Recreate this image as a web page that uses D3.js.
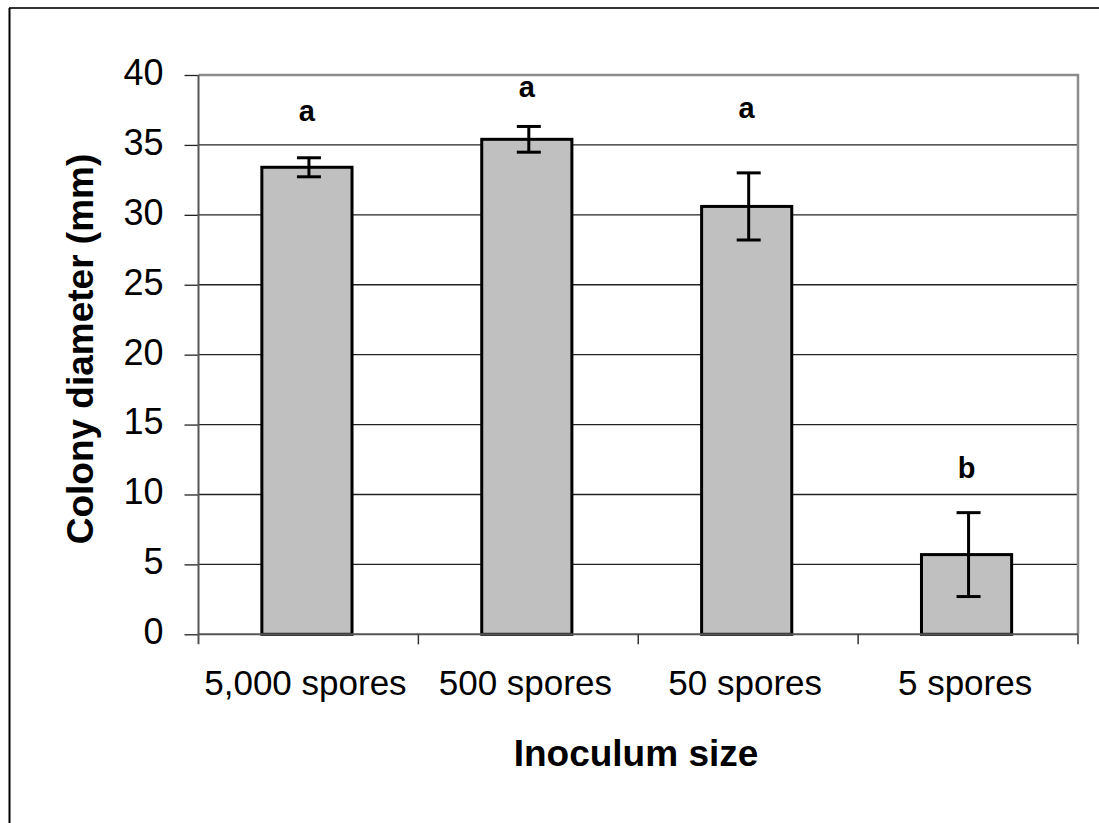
<!DOCTYPE html>
<html>
<head>
<meta charset="utf-8">
<script src="https://cdn.jsdelivr.net/npm/d3@7"></script>
<style>
  html, body { margin: 0; padding: 0; background: #fff; }
  svg { display: block; font-family: "Liberation Sans", Arial, sans-serif; }
</style>
</head>
<body>
<svg id="chart" width="1099" height="823"></svg>
<script>
// Colony diameter by inoculum size (mean ± error), with significance letters
const categories = ["5,000 spores", "500 spores", "50 spores", "5 spores"];
const means = [33.4, 35.4, 30.6, 5.7];
const errors = [0.68, 0.92, 2.4, 3.0];
const groupLetters = ["a", "a", "a", "b"];
const letterLevels = [36.7, 38.4, 36.9, 11.2];
const yTicks = [0, 5, 10, 15, 20, 25, 30, 35, 40];

const svg = d3.select("#chart");
const W = 1099, H = 823;

// outer frame (extends past the right and bottom edges)
svg.append("rect").attr("x", 0).attr("y", 0).attr("width", W).attr("height", H).attr("fill", "#fff");
svg.append("line").attr("x1", 9).attr("x2", W + 5).attr("y1", 8).attr("y2", 8)
  .attr("stroke", "#333").attr("stroke-width", 2);
svg.append("line").attr("x1", 9.5).attr("x2", 9.5).attr("y1", 8).attr("y2", H + 5)
  .attr("stroke", "#000").attr("stroke-width", 2);

const plot = { left: 198.5, right: 1078, top: 75, bottom: 634.3 };

const x = d3.scaleBand().domain(categories).range([plot.left, plot.right]).padding(0);
const y = d3.scaleLinear().domain([0, 40]).range([plot.bottom, plot.top]);

// horizontal gridlines
svg.append("g").selectAll("line")
  .data(yTicks.filter(t => t > 0 && t < 40))
  .join("line")
  .attr("x1", plot.left).attr("x2", plot.right)
  .attr("y1", d => y(d)).attr("y2", d => y(d))
  .attr("stroke", "#222").attr("stroke-width", 1.3);

// plot frame: top and right in grey
svg.append("path")
  .attr("d", `M${plot.left},${plot.top}H${plot.right}V${plot.bottom}`)
  .attr("fill", "none").attr("stroke", "#8c8c8c").attr("stroke-width", 2.5);

// bars
const barW = x.bandwidth() * 0.41;
const cx = d => x(d) + x.bandwidth() / 2 - 1.5;
const rows = categories.map((c, i) => ({ c, m: means[i], e: errors[i], letter: groupLetters[i], ly: letterLevels[i] }));

svg.append("g").selectAll("rect")
  .data(rows)
  .join("rect")
  .attr("x", d => cx(d.c) - barW / 2)
  .attr("y", d => y(d.m))
  .attr("width", barW)
  .attr("height", d => y(0) - y(d.m))
  .attr("fill", "#c0c0c0")
  .attr("stroke", "#000")
  .attr("stroke-width", 3);

// error bars
const capW = 24;
const eb = svg.append("g").attr("stroke", "#000").attr("stroke-width", 3);
rows.forEach(d => {
  const xc = cx(d.c) + 2;
  eb.append("line").attr("x1", xc).attr("x2", xc).attr("y1", y(d.m + d.e)).attr("y2", y(d.m - d.e));
  eb.append("line").attr("x1", xc - capW / 2).attr("x2", xc + capW / 2).attr("y1", y(d.m + d.e)).attr("y2", y(d.m + d.e));
  eb.append("line").attr("x1", xc - capW / 2).attr("x2", xc + capW / 2).attr("y1", y(d.m - d.e)).attr("y2", y(d.m - d.e));
});

// significance letters
svg.append("g").selectAll("text")
  .data(rows)
  .join("text")
  .attr("x", d => cx(d.c))
  .attr("y", d => y(d.ly))
  .attr("text-anchor", "middle")
  .attr("font-size", 29).attr("font-weight", "bold")
  .text(d => d.letter);

// y axis
const yAxis = svg.append("g")
  .attr("transform", `translate(${plot.left},0)`)
  .call(d3.axisLeft(y).tickValues(yTicks).tickSize(14).tickPadding(21).tickSizeOuter(0));
yAxis.select(".domain").remove();
yAxis.selectAll(".tick line").attr("stroke", "#222").attr("stroke-width", 1.3);
yAxis.selectAll(".tick text")
  .attr("font-size", 36).attr("font-family", "Liberation Sans, Arial, sans-serif")
  .attr("fill", "#000").attr("dy", "0.26em");

// x axis baseline and category boundary ticks
svg.append("line").attr("x1", plot.left).attr("x2", plot.right)
  .attr("y1", plot.bottom).attr("y2", plot.bottom)
  .attr("stroke", "#555").attr("stroke-width", 2);
svg.append("line").attr("x1", plot.left).attr("x2", plot.left)
  .attr("y1", plot.top).attr("y2", plot.bottom + 10)
  .attr("stroke", "#555").attr("stroke-width", 2);
const bounds = categories.map(c => x(c)).concat([plot.right]);
svg.append("g").selectAll("line")
  .data(bounds.slice(1))
  .join("line")
  .attr("x1", d => d).attr("x2", d => d)
  .attr("y1", plot.bottom).attr("y2", plot.bottom + 10)
  .attr("stroke", "#333").attr("stroke-width", 1.5);

svg.append("g").selectAll("text")
  .data(categories)
  .join("text")
  .attr("x", d => x(d) + x.bandwidth() / 2 - 3)
  .attr("y", 695)
  .attr("text-anchor", "middle")
  .attr("font-size", 35)
  .text(d => d);

// axis titles
svg.append("text")
  .attr("x", 636).attr("y", 766)
  .attr("text-anchor", "middle")
  .attr("font-size", 37).attr("font-weight", "bold")
  .text("Inoculum size");

svg.append("text")
  .attr("transform", "translate(93,349) rotate(-90)")
  .attr("text-anchor", "middle")
  .attr("font-size", 37).attr("font-weight", "bold")
  .text("Colony diameter (mm)");
</script>
</body>
</html>
